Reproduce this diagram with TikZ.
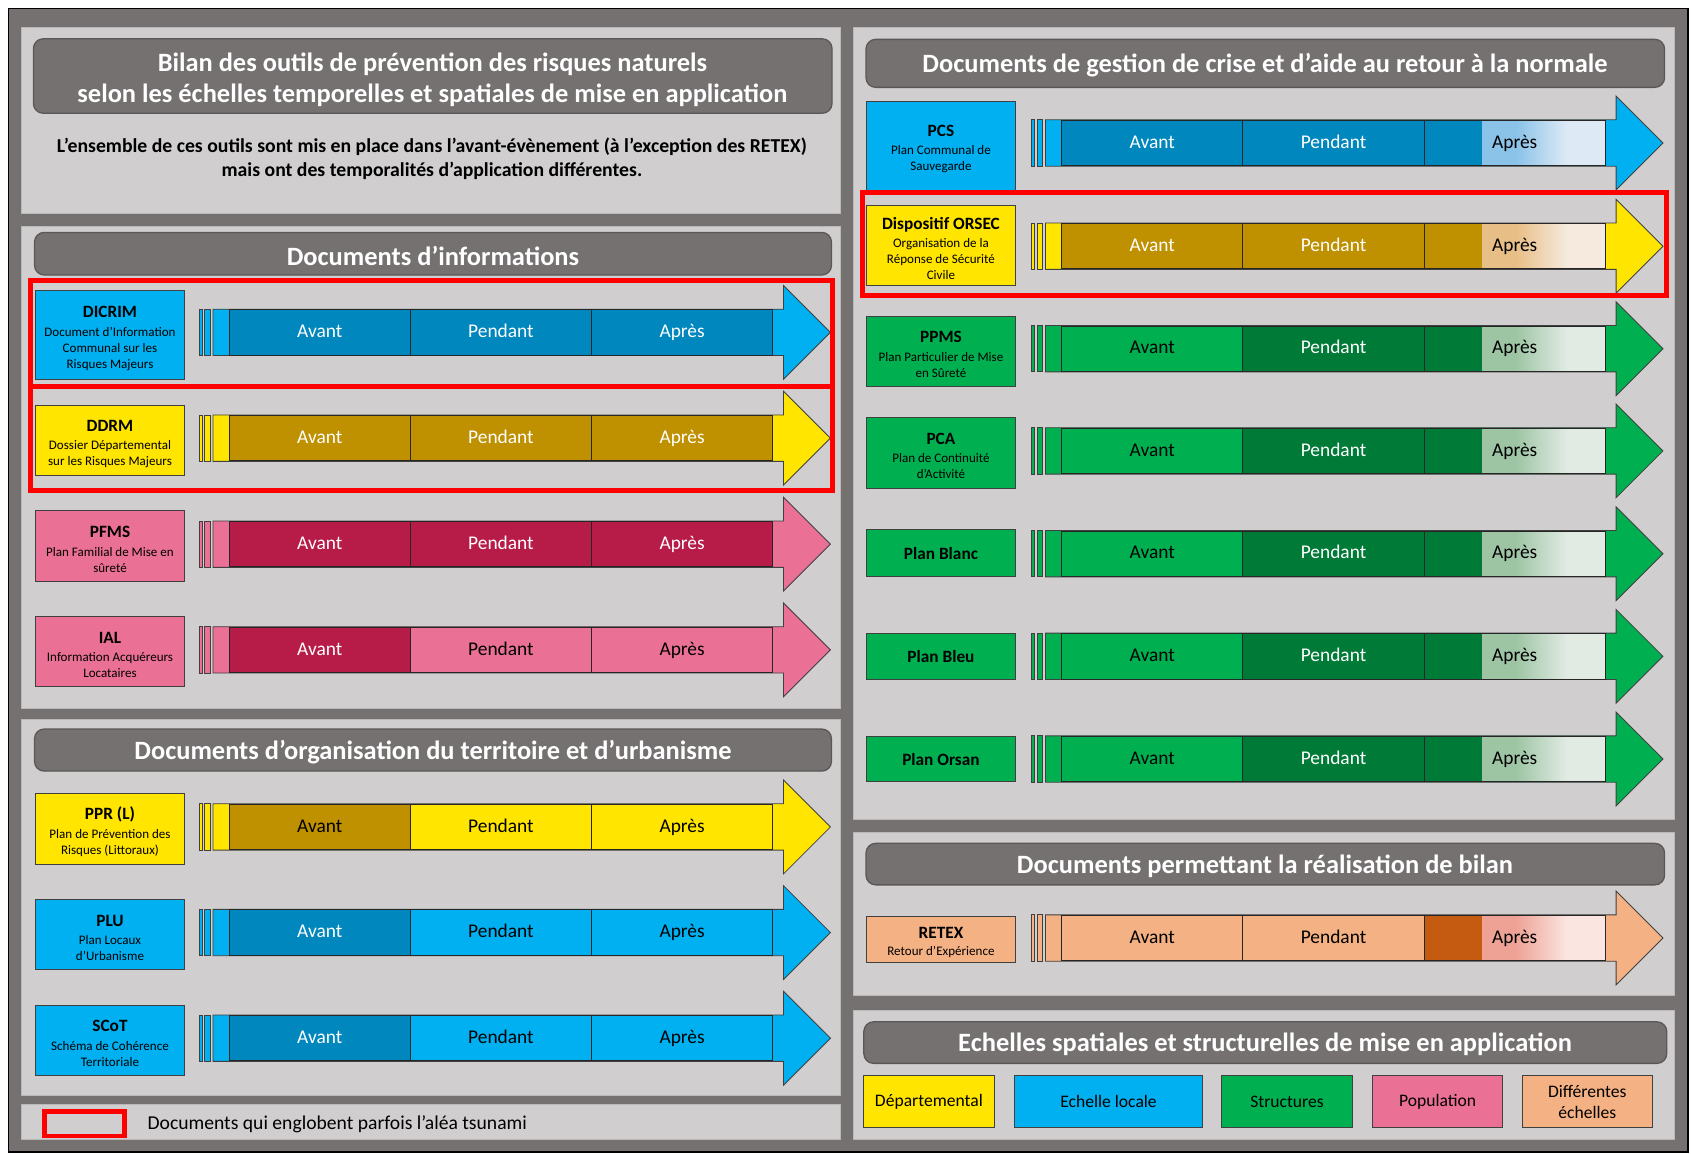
\documentclass[tikz,border=0pt]{standalone}
\usepackage{fontspec}
\setmainfont{Carlito}
\definecolor{bgdark}{HTML}{767171}
\definecolor{panel}{HTML}{D0CECE}
\definecolor{panelline}{HTML}{BAB8B8}
\definecolor{ttlline}{HTML}{5B5757}
\definecolor{cyanc}{HTML}{00B0F0}
\definecolor{dkblue}{HTML}{0087BD}
\definecolor{yell}{HTML}{FFE500}
\definecolor{gold}{HTML}{BF9000}
\definecolor{pinkc}{HTML}{EB7096}
\definecolor{crim}{HTML}{B71B47}
\definecolor{grn}{HTML}{00B050}
\definecolor{dkgrn}{HTML}{007A37}
\definecolor{peach}{HTML}{F4B183}
\definecolor{rust}{HTML}{C55A11}
\definecolor{redc}{HTML}{FF0000}
\definecolor{segline}{HTML}{262626}
\definecolor{arrline}{HTML}{404040}
\definecolor{boxline}{HTML}{404040}
\definecolor{pcsA}{HTML}{8AC2E8}
\definecolor{pcsB}{HTML}{DDEAF6}
\definecolor{orsA}{HTML}{E8BE87}
\definecolor{orsB}{HTML}{F5EADD}
\definecolor{grnA}{HTML}{9DC5A4}
\definecolor{grnB}{HTML}{E1EBE4}
\definecolor{retA}{HTML}{EEA295}
\definecolor{retB}{HTML}{FAE5E0}
\newcommand\nmfont{\fontsize{16}{19}\selectfont\bfseries}
\newcommand\sbfont{\fontsize{12.1}{14.8}\selectfont}
\newcommand\barfont{\fontsize{18}{21}\selectfont}
\newcommand\ttlfont{\fontsize{24.5}{29}\selectfont\bfseries}
\newcommand\introfont{\fontsize{18.3}{22}\selectfont\bfseries}
\newcommand\legfont{\fontsize{16.3}{20}\selectfont}
\newcommand\notefont{\fontsize{18.2}{20}\selectfont}
\newcommand\nm[1]{\rule{0pt}{16.5pt}{\nmfont #1}}
% arrow background: xoffset, yc, colour
\newcommand\arrowbg[3]{%
 \begin{scope}[xshift=#1]
  \filldraw[arrowpart,fill=#3] (184.5,{#2-21.5}) rectangle (187.5,{#2+21.5});
  \filldraw[arrowpart,fill=#3] (190,{#2-21.5}) rectangle (195,{#2+21.5});
  \filldraw[arrowpart,fill=#3] (197.5,{#2-21.5}) -- (726.5,{#2-21.5}) -- (726.5,{#2-43.5}) -- (770,{#2}) -- (726.5,{#2+43.5}) -- (726.5,{#2+21.5}) -- (197.5,{#2+21.5}) -- cycle;
 \end{scope}}
% segment: name, xoffset, yc, index, fill, text colour, text
\newcommand\seg[7]{\node[segbox,fill=#5,text=#6] (#1) at ({#2+296.5+168*#4},{#3}) {#7};}
% gradient Apres segment (right column): name, yc, solid, light, pale
\newcommand\apres[5]{%
 \fill[#3] (1320.5,{#2-21}) rectangle (1375,{#2+21});
 \fill[#4] (1374.5,{#2-21}) rectangle (1406,{#2+21});
 \shade[left color=#4,right color=#5] (1405.5,{#2-21}) rectangle (1453,{#2+21});
 \fill[#5] (1452.5,{#2-21}) rectangle (1488.5,{#2+21});
 \draw[segline,line width=0.8pt] (1320.5,{#2-21}) rectangle (1488.5,{#2+21});
 \node[font=\barfont,text=black,inner sep=0pt,text height=12.5pt,text depth=2.9pt] (#1) at (1404.5,{#2}) {Après};}
\begin{document}
\begin{tikzpicture}[x=1pt,y=-1pt,
  panelbox/.style={fill=panel,draw=panelline,line width=0.8pt},
  ttlbox/.style={fill=bgdark,draw=ttlline,line width=1.2pt,rounded corners=9pt},
  ttltext/.style={text=white,font=\ttlfont,align=center,inner sep=0pt},
  docbox/.style={draw=boxline,line width=0.9pt,minimum width=139pt,inner sep=0pt,align=center,font=\sbfont,text=black},
  segbox/.style={draw=segline,line width=0.8pt,minimum width=168pt,minimum height=42pt,inner sep=0pt,font=\barfont,text height=12.5pt,text depth=2.9pt},
  arrowpart/.style={draw=arrline,line width=0.8pt},
  redframe/.style={draw=redc,line width=4.5pt},
  legbox/.style={draw=boxline,line width=0.9pt,minimum height=48pt,inner sep=0pt,align=center,font=\legfont,text=black},
]
\useasboundingbox (0,0) rectangle (1568,1070);
\fill[white] (0,0) rectangle (1568,1070);
\filldraw[fill=bgdark,draw=black,line width=1.5pt] (8,8) rectangle (1565,1068);
% panels
\filldraw[panelbox] (20,25) rectangle (779,197.5);
\filldraw[panelbox] (20,209.5) rectangle (779,657);
\filldraw[panelbox] (20,667) rectangle (779,1015.5);
\filldraw[panelbox] (20,1024) rectangle (779,1057);
\filldraw[panelbox] (791,25) rectangle (1553,760);
\filldraw[panelbox] (791,772) rectangle (1553,923);
\filldraw[panelbox] (791,936.5) rectangle (1553,1057);
% title boxes
\filldraw[ttlbox] (31,36) rectangle (771.5,105);
\node[ttltext] (t1) at (401,74) {Bilan des outils de prévention des risques naturels\\selon les échelles temporelles et spatiales de mise en application};
\node[font=\introfont,align=center,inner sep=0pt] (intro) at (400.5,147) {L’ensemble de ces outils sont mis en place dans l’avant-évènement (à l’exception des RETEX)\\mais ont des temporalités d’application différentes.};
\filldraw[ttlbox] (32,215.5) rectangle (771,255);
\node[ttltext] (t2) at (401.5,237.5) {Documents d’informations};
\filldraw[ttlbox] (32,676) rectangle (771,715);
\node[ttltext] (t3) at (401.5,697.5) {Documents d’organisation du territoire et d’urbanisme};
\filldraw[ttlbox] (803,36.5) rectangle (1543.5,81);
\node[ttltext] (t4) at (1173,60.7) {Documents de gestion de crise et d’aide au retour à la normale};
\filldraw[ttlbox] (803,782) rectangle (1543.5,820.5);
\node[ttltext] (t5) at (1173,803) {Documents permettant la réalisation de bilan};
\filldraw[ttlbox] (801,947.5) rectangle (1545.5,986);
\node[ttltext] (t6) at (1173,968.7) {Echelles spatiales et structurelles de mise en application};
% ===== left column rows =====
% DICRIM
\node[docbox,fill=cyanc,minimum height=82pt] (dicrim) at (102,310.8) {\nm{DICRIM}\\[2.2pt]Document d’Information\\Communal sur les\\Risques Majeurs};
\arrowbg{0}{308.2}{cyanc}
\seg{dicrimA}{0}{308.2}{0}{dkblue}{white}{Avant}
\seg{dicrimP}{0}{308.2}{1}{dkblue}{white}{Pendant}
\seg{dicrimR}{0}{308.2}{2}{dkblue}{white}{Après}
% DDRM
\node[docbox,fill=yell,minimum height=65pt] (ddrm) at (102,408.5) {\nm{DDRM}\\[2.2pt]Dossier Départemental\\sur les Risques Majeurs};
\arrowbg{0}{406.3}{yell}
\seg{ddrmA}{0}{406.3}{0}{gold}{white}{Avant}
\seg{ddrmP}{0}{406.3}{1}{gold}{white}{Pendant}
\seg{ddrmR}{0}{406.3}{2}{gold}{white}{Après}
% PFMS
\node[docbox,fill=pinkc,minimum height=65pt] (pfms) at (102,506.3) {\nm{PFMS}\\[2.2pt]Plan Familial de Mise en\\sûreté};
\arrowbg{0}{504.6}{pinkc}
\seg{pfmsA}{0}{504.6}{0}{crim}{white}{Avant}
\seg{pfmsP}{0}{504.6}{1}{crim}{white}{Pendant}
\seg{pfmsR}{0}{504.6}{2}{crim}{white}{Après}
% IAL
\node[docbox,fill=pinkc,minimum height=65pt] (ial) at (102,604.3) {\nm{IAL}\\[2.2pt]Information Acquéreurs\\Locataires};
\arrowbg{0}{602.6}{pinkc}
\seg{ialA}{0}{602.6}{0}{crim}{white}{Avant}
\seg{ialP}{0}{602.6}{1}{pinkc}{black}{Pendant}
\seg{ialR}{0}{602.6}{2}{pinkc}{black}{Après}
% PPR
\node[docbox,fill=yell,minimum height=65pt] (ppr) at (102,768.7) {\nm{PPR (L)}\\[2.2pt]Plan de Prévention des\\Risques (Littoraux)};
\arrowbg{0}{766.8}{yell}
\seg{pprA}{0}{766.8}{0}{gold}{black}{Avant}
\seg{pprP}{0}{766.8}{1}{yell}{black}{Pendant}
\seg{pprR}{0}{766.8}{2}{yell}{black}{Après}
% PLU
\node[docbox,fill=cyanc,minimum height=65pt] (plu) at (102,866.7) {\nm{PLU}\\[2.2pt]Plan Locaux\\d’Urbanisme};
\arrowbg{0}{864.7}{cyanc}
\seg{pluA}{0}{864.7}{0}{dkblue}{white}{Avant}
\seg{pluP}{0}{864.7}{1}{cyanc}{black}{Pendant}
\seg{pluR}{0}{864.7}{2}{cyanc}{black}{Après}
% SCoT
\node[docbox,fill=cyanc,minimum height=65pt] (scot) at (102,964.6) {\nm{SCoT}\\[2.2pt]Schéma de Cohérence\\Territoriale};
\arrowbg{0}{962.7}{cyanc}
\seg{scotA}{0}{962.7}{0}{dkblue}{white}{Avant}
\seg{scotP}{0}{962.7}{1}{cyanc}{black}{Pendant}
\seg{scotR}{0}{962.7}{2}{cyanc}{black}{Après}
% red frames left
\draw[redframe] (28.6,260) rectangle (772.2,358.5);
\draw[redframe] (28.6,358.5) rectangle (772.2,455);
% ===== right column rows =====
% PCS
\node[docbox,fill=cyanc,minimum height=82pt] (pcs) at (872.5,135.2) {\nm{PCS}\\[2.6pt]Plan Communal de\\Sauvegarde};
\arrowbg{772}{132.6}{cyanc}
\seg{pcsA}{772}{132.6}{0}{dkblue}{white}{Avant}
\seg{pcsP}{772}{132.6}{1}{dkblue}{white}{Pendant}
\apres{pcsR}{132.6}{dkblue}{pcsA}{pcsB}
% ORSEC
\node[docbox,fill=yell,minimum height=74pt] (orsec) at (872.5,228) {\nm{Dispositif ORSEC}\\[2.2pt]Organisation de la\\Réponse de Sécurité\\Civile};
\arrowbg{772}{228.3}{yell}
\seg{orsecA}{772}{228.3}{0}{gold}{white}{Avant}
\seg{orsecP}{772}{228.3}{1}{gold}{white}{Pendant}
\apres{orsecR}{228.3}{gold}{orsA}{orsB}
% PPMS
\node[docbox,fill=grn,minimum height=65pt] (ppms) at (872.5,325.5) {\nm{PPMS}\\[2.2pt]Plan Particulier de Mise\\en Sûreté};
\arrowbg{772}{323.3}{grn}
\seg{ppmsA}{772}{323.3}{0}{grn}{black}{Avant}
\seg{ppmsP}{772}{323.3}{1}{dkgrn}{white}{Pendant}
\apres{ppmsR}{323.3}{dkgrn}{grnA}{grnB}
% PCA
\node[docbox,fill=grn,minimum height=65pt] (pca) at (872.5,420) {\nm{PCA}\\[2.2pt]Plan de Continuité\\d’Activité};
\arrowbg{772}{418.1}{grn}
\seg{pcaA}{772}{418.1}{0}{grn}{black}{Avant}
\seg{pcaP}{772}{418.1}{1}{dkgrn}{white}{Pendant}
\apres{pcaR}{418.1}{dkgrn}{grnA}{grnB}
% Plan Blanc
\node[docbox,fill=grn,minimum height=44pt,font=\nmfont] (blanc) at (872.5,512.8) {Plan Blanc};
\arrowbg{772}{513.4}{grn}
\seg{blancA}{772}{513.4}{0}{grn}{black}{Avant}
\seg{blancP}{772}{513.4}{1}{dkgrn}{white}{Pendant}
\apres{blancR}{513.4}{dkgrn}{grnA}{grnB}
% Plan Bleu
\node[docbox,fill=grn,minimum height=42pt,font=\nmfont] (bleu) at (872.5,608.7) {Plan Bleu};
\arrowbg{772}{608.6}{grn}
\seg{bleuA}{772}{608.6}{0}{grn}{black}{Avant}
\seg{bleuP}{772}{608.6}{1}{dkgrn}{white}{Pendant}
\apres{bleuR}{608.6}{dkgrn}{grnA}{grnB}
% Plan Orsan
\node[docbox,fill=grn,minimum height=42pt,font=\nmfont] (orsan) at (872.5,704) {Plan Orsan};
\arrowbg{772}{703.8}{grn}
\seg{orsanA}{772}{703.8}{0}{grn}{black}{Avant}
\seg{orsanP}{772}{703.8}{1}{dkgrn}{white}{Pendant}
\apres{orsanR}{703.8}{dkgrn}{grnA}{grnB}
% red frame right
\draw[redframe] (799.5,178.8) rectangle (1545,274);
% RETEX
\node[docbox,fill=peach,minimum height=43pt] (retex) at (872.5,870.9) {\nm{RETEX}\\[1pt]Retour d’Expérience};
\arrowbg{772}{869.8}{peach}
\seg{retexA}{772}{869.8}{0}{peach}{black}{Avant}
\seg{retexP}{772}{869.8}{1}{peach}{black}{Pendant}
\apres{retexR}{869.8}{rust}{retA}{retB}
% legend of scales
\node[legbox,fill=yell,minimum width=121pt] (lgdep) at (861.3,1021.7) {Départemental};
\node[legbox,fill=cyanc,minimum width=175pt] (lgloc) at (1027.9,1021.7) {Echelle locale};
\node[legbox,fill=grn,minimum width=121pt] (lgstr) at (1193.4,1021.7) {Structures};
\node[legbox,fill=pinkc,minimum width=121pt] (lgpop) at (1333,1021.7) {Population};
\node[legbox,fill=peach,minimum width=121pt] (lgdif) at (1471.8,1021.7) {Différentes\\échelles};
% tsunami note
\filldraw[fill=panel,draw=redc,line width=4.5pt] (41.5,1030.3) rectangle (115.7,1053.3);
\node[font=\notefont,anchor=west,inner sep=0pt] (note) at (136.7,1042.5) {Documents qui englobent parfois l’aléa tsunami};
\end{tikzpicture}
\end{document}
